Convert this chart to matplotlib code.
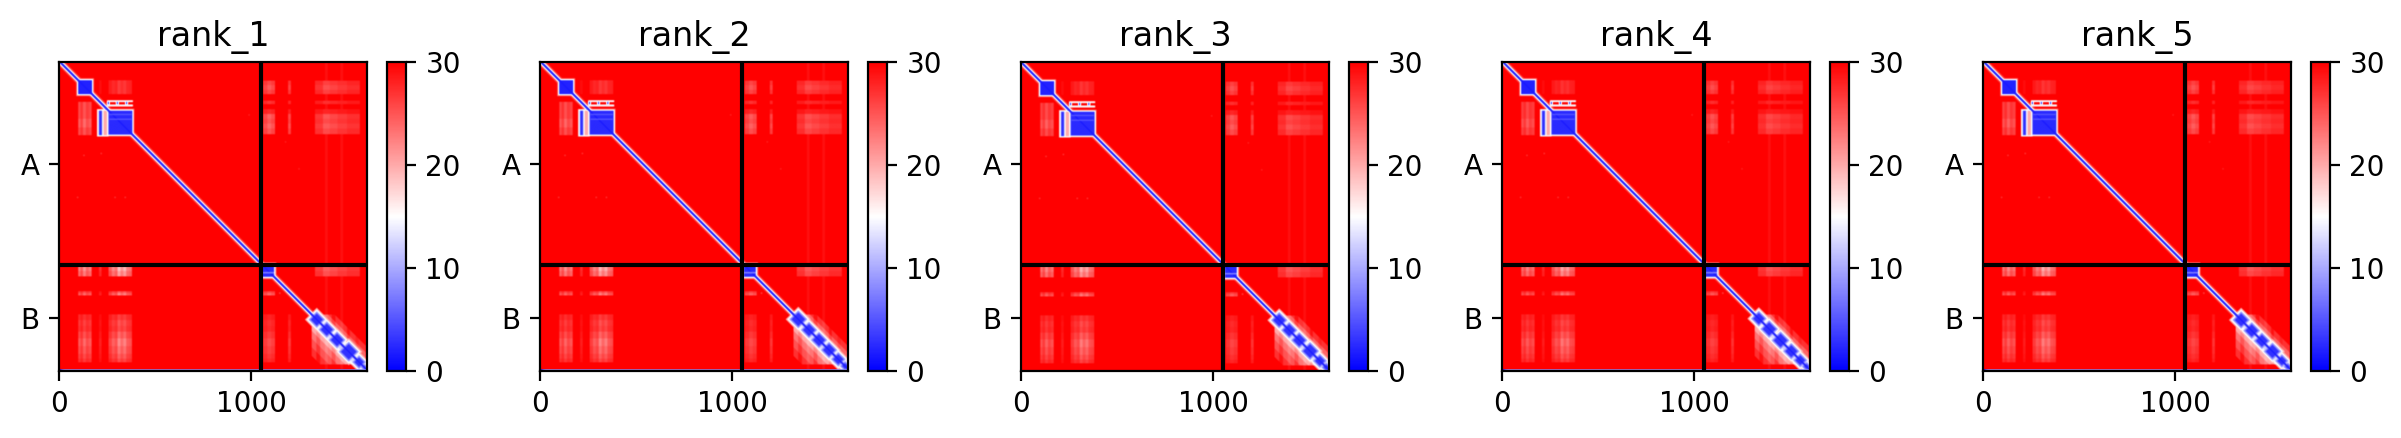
import numpy as np
import matplotlib
matplotlib.use('Agg')
import matplotlib.pyplot as plt

# Chain lengths and labels
chain_labels = ['A', 'B']
len_a = 1052
len_b = 552
titles = ['rank_1', 'rank_2', 'rank_3', 'rank_4', 'rank_5']

# Predicted error in the solid regions (start, end, value)
a_domains = [(100, 172, 2.0), (258, 382, 2.5)]
b_head = (1058, 1120, 2.5)

# Repeat boundaries along the end of chain B, one list per rank
b_repeats = [
    [1316, 1368, 1420, 1475, 1542, 1583, 1596],
    [1311, 1370, 1422, 1474, 1526, 1570, 1596],
    [1314, 1366, 1418, 1470, 1530, 1572, 1596],
    [1312, 1362, 1420, 1480, 1532, 1574, 1596],
    [1316, 1372, 1426, 1478, 1536, 1576, 1596],
]

# Strength of the pale stripes per rank
stripe_gain = [1.0, 0.95, 0.9, 0.85, 0.9]

# Pale stripes as (start, end, strength)
a_cols = [(100, 112, .55), (112, 125, .4), (125, 140, .65), (140, 155, .45), (155, 170, .55),
          (208, 222, .2), (258, 275, .4), (275, 290, .6), (290, 305, .5), (305, 320, .85),
          (320, 335, .65), (335, 350, .8), (350, 365, .55), (365, 380, .5)]
b_rows = [(1060, 1090, .9), (1090, 1118, .75), (1195, 1205, .45), (1205, 1217, .65),
          (1315, 1345, .3), (1345, 1375, .4), (1375, 1405, .35), (1405, 1440, .5),
          (1440, 1480, .65), (1480, 1520, .55), (1520, 1545, .45), (1545, 1564, .35)]
a_rows = [(102, 125, .6), (125, 150, .75), (150, 172, .6), (206, 224, .45),
          (250, 275, .35), (275, 300, .8), (300, 325, .7), (325, 350, .85), (350, 380, .7)]
b_cols = [(1063, 1085, .6), (1085, 1105, .8), (1105, 1125, .65), (1193, 1208, .6),
          (1333, 1375, .45), (1375, 1410, .7), (1410, 1450, .6), (1450, 1500, .5), (1500, 1567, .4)]

# Faint isolated spots (row, col, value)
spots = [(708, 97, 27), (708, 292, 27), (708, 345, 27), (1205, 1150, 26), (1210, 1200, 25),
         (420, 1180, 28), (560, 1250, 28), (280, 990, 28), (480, 220, 27), (490, 130, 27)]

# Band around the main diagonal (half width in residues, value)
diag_band = [(28, 28), (22, 24), (17, 19), (13, 14), (10, 8), (7, 3), (5, 1.5)]
# Haze beside the repeats of chain B (distance from the diagonal, value)
haze_lower = [(215, 27), (170, 25), (125, 23), (85, 20), (55, 16), (35, 13)]
haze_upper = [(120, 27), (85, 24), (55, 20), (35, 15)]
# Columns where the haze is lighter or stronger (start, end, added value)
haze_streaks = [(1340, 1360, 2), (1385, 1400, -1), (1420, 1440, 2), (1465, 1480, -1),
                (1500, 1515, 2), (1545, 1560, 1)]
# Rim of a repeat lobe (extra reach in residues, value), outermost first
lobe_rims = [(30, 19), (20, 14), (10, 8), (0, 3)]


def lower(pae, r0, r1, c0, c1, val):
    pae[r0:r1, c0:c1] = np.minimum(pae[r0:r1, c0:c1], val)


def stripes(pae, rows, cols, depth):
    for r0, r1, rs in rows:
        for c0, c1, cs in cols:
            lower(pae, r0, r1, c0, c1, 30 - depth * rs * cs)


def solid(pae, start, end, val, rim=5):
    lower(pae, start - 2 * rim, end + 2 * rim, start - 2 * rim, end + 2 * rim, 22)
    lower(pae, start - rim, end + rim, start - rim, end + rim, 14)
    lower(pae, start, end, start, end, val)


def soften(pae, size):
    # box blur along both axes so that block edges are not hard
    for axis in (0, 1):
        total = np.cumsum(pae, axis=axis)
        shifted = np.roll(total, size, axis=axis)
        if axis == 0:
            shifted[:size, :] = 0
        else:
            shifted[:, :size] = 0
        pae = np.roll((total - shifted) / size, -(size // 2), axis=axis)
    return np.clip(pae, 0, 30)


def build_pae(idx):
    n = len_a + len_b
    pae = np.full((n, n), 30.0)
    gain = stripe_gain[idx]
    rr, cc = np.indices((n, n))
    dist = rr - cc

    # off-diagonal chain pairs
    stripes(pae, b_rows, a_cols, 15 * gain)
    stripes(pae, a_rows, b_cols, 9 * gain)
    # inside chain A
    stripes(pae, [(100, 172, .6)], [c for c in a_cols if c[0] >= 208], 7 * gain)
    stripes(pae, [(212, 250, .7), (250, 300, .7), (300, 345, .9), (345, 385, .7)],
            [c for c in a_cols if c[0] < 200], 11 * gain)
    # inside chain B
    stripes(pae, [r for r in b_rows if r[0] >= 1315], b_cols[:4], 9 * gain)
    stripes(pae, b_rows[:2], b_cols[4:], 9 * gain)
    stripes(pae, b_rows[2:4], b_cols[:3], 12 * gain)

    # haze around the repeats
    zone = (rr >= 1316) & (cc >= 1316) & (rr < 1575) & (cc < n - 6)
    haze = np.full((n, n), 30.0)
    for width, val in haze_lower:
        mask = zone & (dist >= 0) & (dist < width)
        haze[mask] = np.minimum(haze[mask], val)
    for width, val in haze_upper:
        mask = zone & (dist < 0) & (dist > -width)
        haze[mask] = np.minimum(haze[mask], val)
    for c0, c1, extra in haze_streaks:
        haze[:, c0:c1] = np.minimum(haze[:, c0:c1] + extra, 30)
    pae = np.minimum(pae, haze)

    # main diagonal
    for width, val in diag_band:
        mask = np.abs(dist) < width
        pae[mask] = np.minimum(pae[mask], val)

    # folded domains of chain A
    solid(pae, a_domains[0][0], a_domains[0][1], a_domains[0][2])
    solid(pae, a_domains[1][0], a_domains[1][1], a_domains[1][2])
    lower(pae, 250, 392, 198, 258, 15)
    lower(pae, 258, 385, 208, 224, 3)
    pae[258:385, 232:250] = 20
    lower(pae, 204, 213, 250, 385, 14)
    lower(pae, 226, 236, 250, 385, 14)
    for col in [257, 304, 352]:
        lower(pae, 213, 225, col - 7, col + 7, 6)
    for row in [275, 300]:
        pae[row:row + 5, 262:378] = 6

    # head of chain B
    solid(pae, b_head[0], b_head[1], b_head[2], rim=6)
    pae[b_head[1] - 24:b_head[1] - 18, b_head[0]:b_head[1]] = 9

    # repeats of chain B, drawn as diamonds on the diagonal
    edges = b_repeats[idx]
    for k in range(len(edges) - 1):
        mid = (edges[k] + edges[k + 1]) / 2
        reach = 0.6 * (edges[k + 1] - edges[k])
        for extra, val in lobe_rims:
            mask = np.abs(rr - mid) + np.abs(cc - mid) < reach + extra
            pae[mask] = np.minimum(pae[mask], val)

    for r, c, val in spots:
        lower(pae, r - 4, r + 4, c - 4, c + 4, val)
    return soften(pae, 9)


W, H = 2401, 438
fig = plt.figure(figsize=(W / 200, H / 200), dpi=200)
panel_left = [59, 540, 1021, 1502, 1983]

for i, title in enumerate(titles):
    ax = fig.add_axes([panel_left[i] / W, 1 - 371 / H, 308 / W, 309 / H])
    cax = fig.add_axes([(panel_left[i] + 328) / W, 1 - 371 / H, 19 / W, 309 / H])
    ln = len_a + len_b
    im = ax.imshow(build_pae(i), cmap='bwr', vmin=0, vmax=30, extent=(0, ln, ln, 0))
    ax.set_title(title)
    fig.colorbar(im, cax=cax, ticks=[0, 10, 20, 30])
    # chain boundary
    ax.plot([0, ln], [len_a, len_a], color='black')
    ax.plot([len_a, len_a], [0, ln], color='black')
    ax.set_xlim(0, ln)
    ax.set_ylim(ln, 0)
    ax.set_xticks([0, 1000])
    ax.set_yticks([len_a / 2, len_a + len_b / 2])
    ax.set_yticklabels(chain_labels)

fig.savefig('out.png', dpi=200)
